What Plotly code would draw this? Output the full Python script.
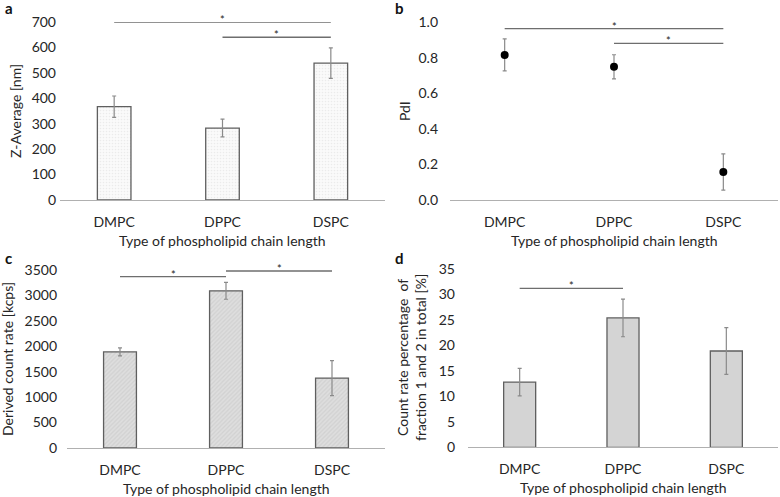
import plotly.graph_objects as go

categories = ["DMPC", "DPPC", "DSPC"]

z_avg = [367, 283, 538]
z_err = [42, 35, 60]

pdi = [0.815, 0.748, 0.157]
pdi_err = [0.09, 0.068, 0.102]

count_rate = [1890, 3090, 1375]
count_err = [80, 165, 345]

frac_pct = [12.8, 25.4, 18.9]
frac_err = [2.7, 3.7, 4.6]

# significance brackets: (from category, to category, height)
sig_a = [("DMPC", "DSPC", 700), ("DPPC", "DSPC", 640)]
sig_b = [("DMPC", "DSPC", 0.963), ("DPPC", "DSPC", 0.88)]
sig_c = [("DMPC", "DPPC", 3370), ("DPPC", "DSPC", 3480)]
sig_d = [("DMPC", "DPPC", 31.2)]

FONT = "Lato"
W, H = 780, 497
outline = "#5f5f5f"
errc = "#8a8a8a"
TXT = "#262626"

fig = go.Figure()

err_style = lambda arr: dict(type="data", array=arr, visible=True, color=errc, thickness=1.2, width=2)

fig.add_trace(go.Bar(x=categories, y=z_avg, error_y=err_style(z_err), xaxis="x", yaxis="y",
                     marker=dict(color="#f7f7f7", line=dict(color=outline, width=1.3),
                                 pattern=dict(shape=".", fgcolor="#dcdcdc", bgcolor="#fafafa", size=3, solidity=0.25)),
                     showlegend=False))
fig.add_trace(go.Scatter(x=categories, y=pdi, error_y=err_style(pdi_err), xaxis="x2", yaxis="y2", mode="markers",
                         marker=dict(color="black", size=8), showlegend=False))
fig.add_trace(go.Bar(x=categories, y=count_rate, error_y=err_style(count_err), xaxis="x3", yaxis="y3",
                     marker=dict(color="#d9d9d9", line=dict(color=outline, width=1.3),
                                 pattern=dict(shape="/", fgcolor="#c4c4c4", bgcolor="#dedede", size=3, solidity=0.4)),
                     showlegend=False))
fig.add_trace(go.Bar(x=categories, y=frac_pct, error_y=err_style(frac_err), xaxis="x4", yaxis="y4",
                     marker=dict(color="#d4d4d4", line=dict(color=outline, width=1.3)),
                     showlegend=False))

def px_x(p):
    return p / W

def px_y(p):
    return 1 - p / H

tickfont = dict(family=FONT, size=14, color=TXT)

def xaxis(dom, anchor):
    return dict(domain=dom, anchor=anchor, type="category", showline=True, linecolor="#b0b0b0", linewidth=1.2,
                showgrid=False, zeroline=False, ticks="", tickfont=tickfont, fixedrange=True,
                range=[-0.5, 2.5], ticklabelstandoff=9, automargin=False)

def yaxis(dom, anchor, rng, dtick, standoff, fmt=None):
    d = dict(domain=dom, anchor=anchor, range=rng, dtick=dtick, showline=False, showgrid=False, zeroline=False,
             ticks="", tickfont=tickfont, ticklabelstandoff=standoff, automargin=False, fixedrange=True)
    if fmt:
        d["tickformat"] = fmt
    return d

fig.update_layout(
    width=W, height=H, margin=dict(l=0, r=0, t=0, b=0, autoexpand=False),
    paper_bgcolor="white", plot_bgcolor="white", bargap=0.69,
    font=dict(family=FONT, size=14, color=TXT),
    xaxis=xaxis([px_x(60), px_x(385)], "y"),
    yaxis=yaxis([px_y(200), px_y(22)], "x", [0, 700], 100, 3),
    xaxis2=xaxis([px_x(450), px_x(778)], "y2"),
    yaxis2=yaxis([px_y(200), px_y(22)], "x2", [0, 1.0], 0.2, 11, ".1f"),
    xaxis3=xaxis([px_x(67), px_x(385)], "y3"),
    yaxis3=yaxis([px_y(448), px_y(270)], "x3", [0, 3500], 500, 9),
    xaxis4=xaxis([px_x(468), px_x(778)], "y4"),
    yaxis4=yaxis([px_y(447.3), px_y(269)], "x4", [0, 35], 5, 12),
)

shapes = []
annotations = []
for sigs, ax in [(sig_a, ""), (sig_b, "2"), (sig_c, "3"), (sig_d, "4")]:
    for a, b, h in sigs:
        ia, ib = categories.index(a), categories.index(b)
        shapes.append(dict(type="line", xref="x" + ax, yref="y" + ax, x0=ia, x1=ib, y0=h, y1=h,
                           line=dict(color="#6e6e6e", width=1.3)))
        annotations.append(dict(xref="x" + ax, yref="y" + ax, x=(ia + ib) / 2, y=h, text="*",
                                showarrow=False, yanchor="bottom", yshift=-6,
                                font=dict(family=FONT, size=11, color="#222222")))

# panel letters
for letter, x, y in [("a", 3, 8), ("b", 393, 8), ("c", 3, 258), ("d", 393, 258)]:
    annotations.append(dict(xref="paper", yref="paper", x=px_x(x), y=px_y(y), text="<b>%s</b>" % letter,
                            showarrow=False, xanchor="left", yanchor="middle",
                            font=dict(family=FONT, size=15, color="#111111")))

# axis titles
xt = "Type of phospholipid chain length"
for x, y in [(222, 240), (614, 240), (226, 488), (623, 487)]:
    annotations.append(dict(xref="paper", yref="paper", x=px_x(x), y=px_y(y), text=xt, showarrow=False,
                            xanchor="center", yanchor="middle", font=dict(family=FONT, size=14, color=TXT)))

for text, x, y in [("Z-Average [nm]", 15, 111), ("PdI", 404, 111), ("Derived count rate [kcps]", 7, 359),
                   ("Count rate percentage  of<br>fraction 1 and 2 in total [%]", 411, 358)]:
    annotations.append(dict(xref="paper", yref="paper", x=px_x(x), y=px_y(y), text=text, textangle=-90,
                            showarrow=False, xanchor="center", yanchor="middle",
                            font=dict(family=FONT, size=14, color=TXT)))

fig.update_layout(shapes=shapes, annotations=annotations)

fig.write_html("out.html", config={"displayModeBar": False},
               post_script="document.body.style.margin='0';document.body.style.overflow='hidden';")
